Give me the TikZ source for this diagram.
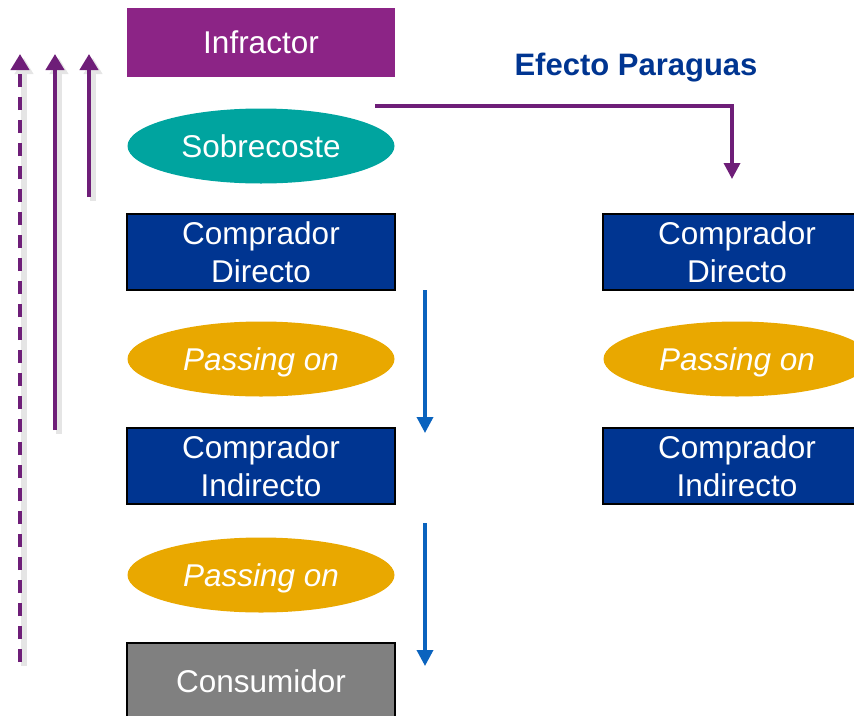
\documentclass[tikz,border=0pt]{standalone}
\usepackage{fontspec}
\setmainfont{Liberation Sans}
\usetikzlibrary{arrows.meta,shapes.geometric}

\definecolor{infrpurple}{HTML}{8C2486}
\definecolor{arrowpurple}{HTML}{6E1E78}
\definecolor{buyerblue}{HTML}{003591}
\definecolor{sobreteal}{HTML}{00A49F}
\definecolor{passgold}{HTML}{E9A800}
\definecolor{flowblue}{HTML}{0A63BE}

\tikzset{
  box/.style={rectangle, minimum width=268pt, minimum height=76pt, inner sep=0pt,
    text=white, align=center, font=\fontsize{31.5}{38}\selectfont},
  buyer/.style={box, fill=buyerblue, draw=black, line width=1.6pt},
  firm/.style={box, fill=infrpurple, minimum height=69pt},
  cons/.style={box, fill=black!50, draw=black, line width=1.6pt},
  effect/.style={ellipse, minimum width=267pt, minimum height=75pt, inner sep=0pt,
    text=white, font=\fontsize{31.5}{38}\selectfont},
  pass/.style={effect, fill=passgold, text depth=0pt, font=\fontsize{31.5}{38}\selectfont\itshape},
  back/.style={draw=arrowpurple, line width=4pt, -{Triangle[width=18pt,length=16pt]},
    preaction={draw=black!10, line width=6pt, transform canvas={shift={(4pt,-4pt)}}}},
  down/.style={draw=flowblue, line width=3.5pt, -{Triangle[width=16pt,length=16pt]}},
}

\begin{document}
\begin{tikzpicture}[x=1pt, y=-1pt]
  \useasboundingbox (0,0) rectangle (854,715);

  % left column
  \node[firm]   (infr)  at (261,42.5) {Infractor};
  \node[effect, fill=sobreteal] (sobre) at (261,146) {Sobrecoste};
  \node[buyer]  (cd)    at (261,252) {Comprador\\Directo};
  \node[pass]   (po1)   at (261,359) {Passing on};
  \node[buyer]  (ci)    at (261,466) {Comprador\\Indirecto};
  \node[pass]   (po2)   at (261,575) {Passing on};
  \node[cons]   (cons)  at (261,681) {Consumidor};

  % right column (umbrella)
  \node[font=\bfseries\fontsize{31}{36}\selectfont, text=buyerblue] (title) at (636,68) {Efecto Paraguas};
  \node[buyer]  (cdr)   at (737,252) {Comprador\\Directo};
  \node[pass]   (por)   at (737,359) {Passing on};
  \node[buyer]  (cir)   at (737,466) {Comprador\\Indirecto};

  % arrows
  \coordinate (u0) at (375,106);
  \coordinate (u1) at (732,179);
  \draw[draw=arrowpurple, line width=3.5pt, -{Triangle[width=16pt,length=16pt]}] (u0) -| (u1);

  \coordinate (d1a) at (425,290);
  \coordinate (d1b) at (425,433);
  \coordinate (d2a) at (425,523);
  \coordinate (d2b) at (425,666);
  \draw[down] (d1a) -- (d1b);
  \draw[down] (d2a) -- (d2b);

  \coordinate (b1a) at (89,197);
  \coordinate (b1b) at (89,54);
  \coordinate (b2a) at (55,430);
  \coordinate (b2b) at (55,54);
  \coordinate (b3a) at (20,662);
  \coordinate (b3b) at (20,54);
  \draw[back] (b1a) -- (b1b);
  \draw[back] (b2a) -- (b2b);
  \draw[back, dash pattern=on 13pt off 10pt] (b3a) -- (b3b);

\end{tikzpicture}
\end{document}
